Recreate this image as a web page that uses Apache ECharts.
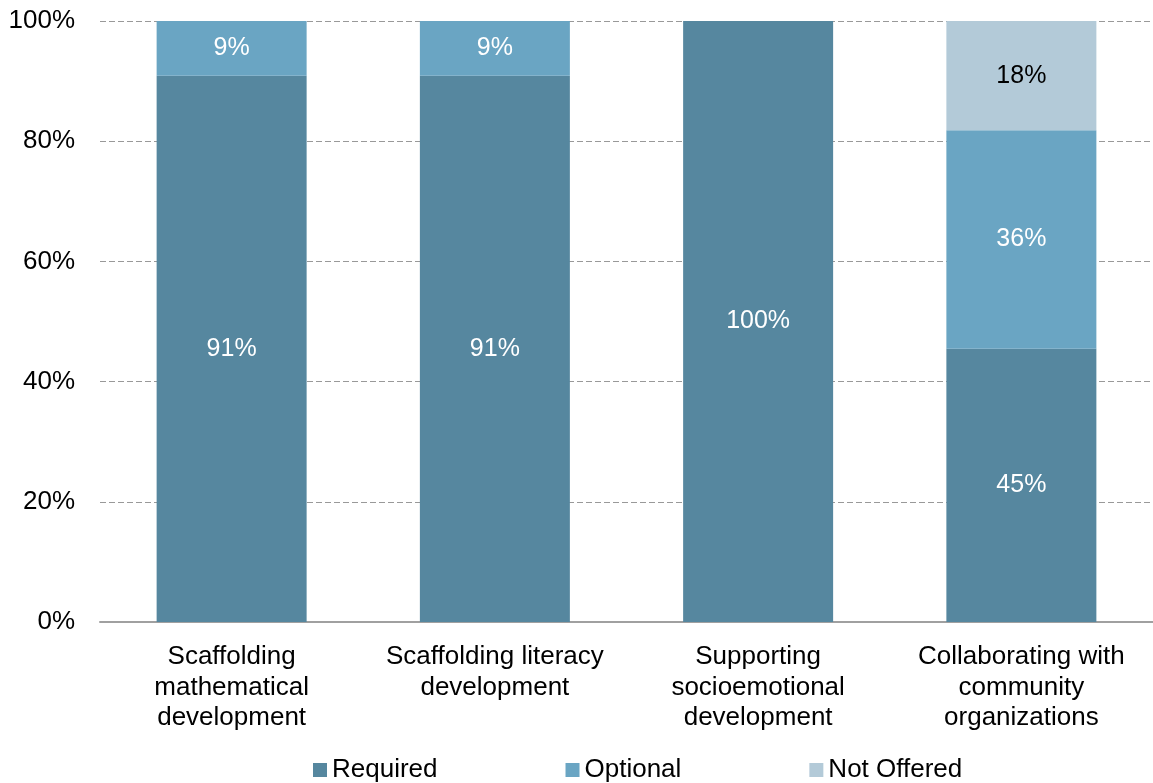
<!DOCTYPE html>
<html>
<head>
<meta charset="utf-8">
<script src="https://cdn.jsdelivr.net/npm/echarts@6/dist/echarts.min.js"></script>
<style>html,body{margin:0;padding:0;background:#fff}#c{width:1153px;height:783px}</style>
</head>
<body>
<div id="c"></div>
<script>
var categories = ['Scaffolding\nmathematical\ndevelopment', 'Scaffolding literacy\ndevelopment', 'Supporting\nsocioemotional\ndevelopment', 'Collaborating with\ncommunity\norganizations'];
var required = [90.91, 90.91, 100, 45.45];
var optional = [9.09, 9.09, 0, 36.36];
var notOffered = [0, 0, 0, 18.18];
var yTicks = [0, 20, 40, 60, 80, 100];

var FONT = '"Liberation Sans", Arial, sans-serif';
function lbl(color) {
  return {
    show: true, position: 'inside', color: color, fontSize: 25, fontFamily: FONT,
    formatter: function (p) { return p.value > 0 ? Math.round(p.value) + '%' : ''; }
  };
}
var chart = echarts.init(document.getElementById('c'), null, {renderer: 'canvas'});
chart.setOption({
  animation: false,
  textStyle: {fontFamily: FONT},
  grid: {left: 100, top: 21, width: 1060, height: 601, containLabel: false},
  legend: {
    left: 308, top: 752, itemWidth: 14, itemHeight: 14, itemGap: 128, icon: 'rect',
    textStyle: {fontSize: 26, color: '#000', fontFamily: FONT},
    data: ['Required', 'Optional', 'Not Offered']
  },
  xAxis: {
    type: 'category', data: categories,
    axisTick: {show: false},
    axisLine: {lineStyle: {color: '#a0a0a0', width: 2}},
    axisLabel: {color: '#000', fontSize: 26, lineHeight: 30.5, margin: 20, interval: 0, fontFamily: FONT}
  },
  yAxis: {
    type: 'value', min: yTicks[0], max: yTicks[yTicks.length - 1], interval: 20,
    axisLine: {show: false}, axisTick: {show: false},
    axisLabel: {color: '#000', fontSize: 26, margin: 25, formatter: '{value}%', fontFamily: FONT},
    splitLine: {lineStyle: {color: '#999', type: [6, 3], width: 1}}
  },
  series: [
    {name: 'Required', type: 'bar', stack: 't', data: required, barWidth: 150,
     itemStyle: {color: '#56879f'}, label: lbl('#fff')},
    {name: 'Optional', type: 'bar', stack: 't', data: optional, barWidth: 150,
     itemStyle: {color: '#6aa5c3'}, label: lbl('#fff')},
    {name: 'Not Offered', type: 'bar', stack: 't', data: notOffered, barWidth: 150,
     itemStyle: {color: '#b3cad8'}, label: lbl('#000')}
  ]
});
</script>
</body>
</html>
